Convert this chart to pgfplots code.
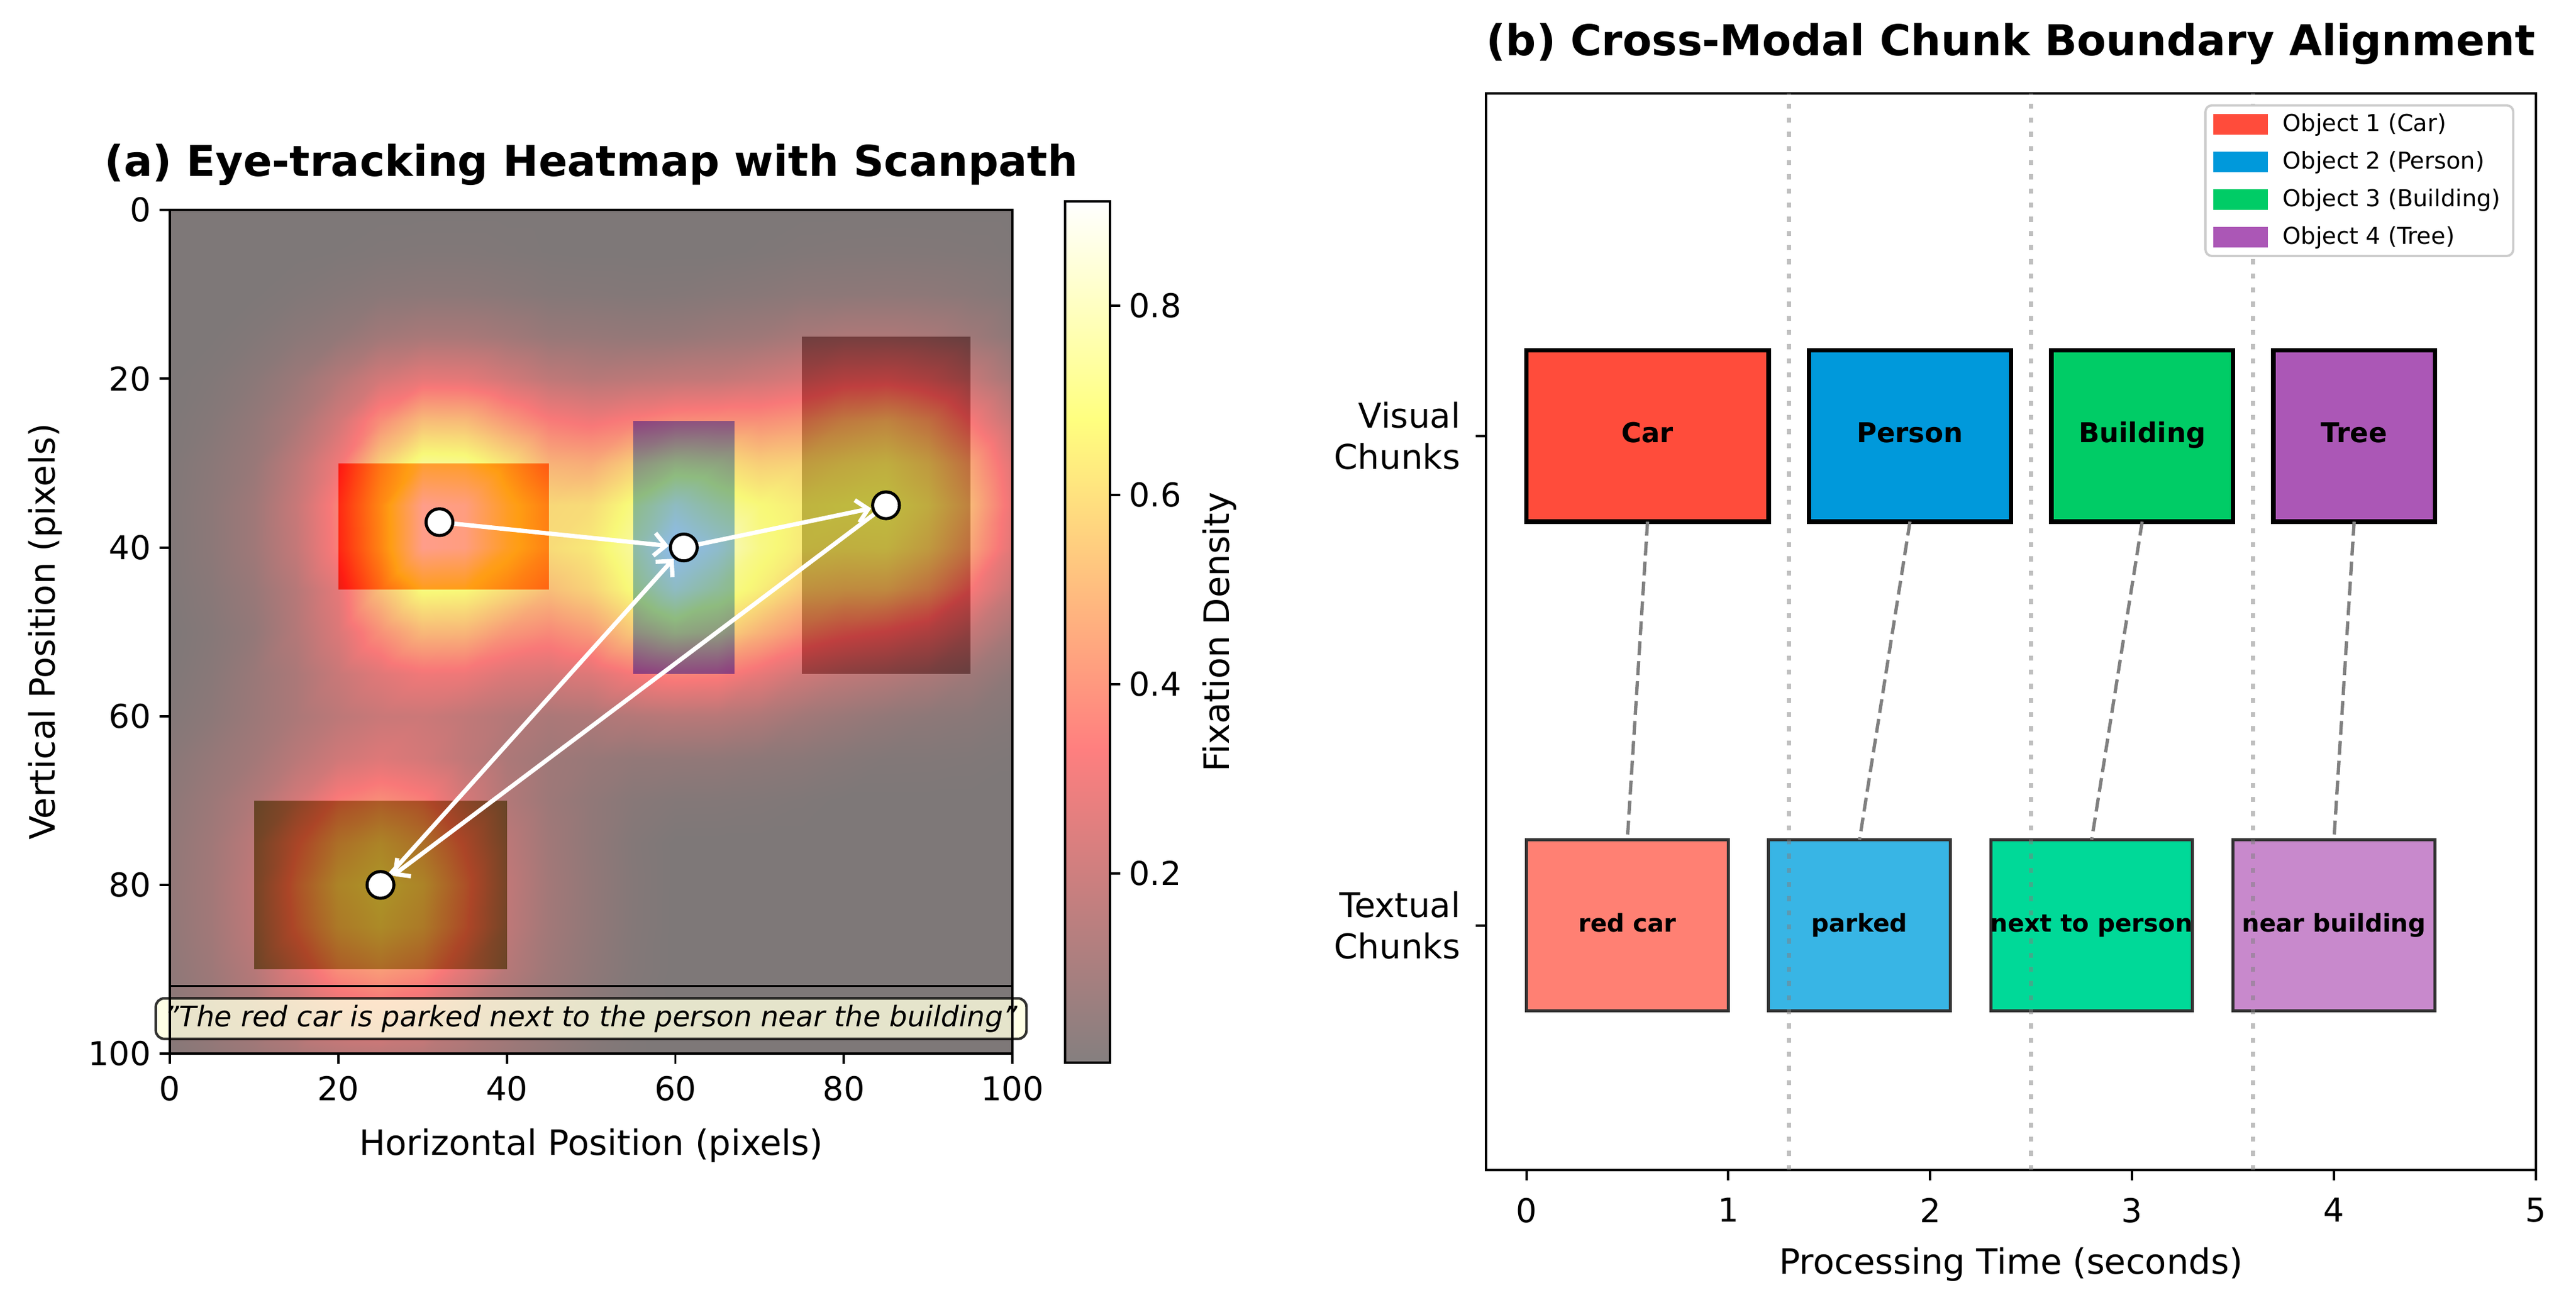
\documentclass[border=0pt]{standalone}
\usepackage{fontspec}
\setmainfont{DejaVu Sans}[ItalicFont={DejaVu Sans Oblique},BoldFont={DejaVu Sans Bold},BoldItalicFont={DejaVu Sans Bold Oblique}]
\usepackage{pgfplots}
\pgfplotsset{compat=1.18}
\usetikzlibrary{arrows.meta}

% object colours
\definecolor{carC}{RGB}{255,76,59}
\definecolor{perC}{RGB}{0,153,219}
\definecolor{bldC}{RGB}{0,204,102}
\definecolor{treC}{RGB}{171,87,182}
\definecolor{carT}{RGB}{255,128,115}
\definecolor{perT}{RGB}{56,181,229}
\definecolor{bldT}{RGB}{0,217,152}
\definecolor{treT}{RGB}{200,137,204}
\definecolor{boxedge}{RGB}{50,50,50}
\definecolor{dotgray}{RGB}{128,128,128}
% scene under the heatmap
\definecolor{sceneBG}{RGB}{242,242,242}
\definecolor{sceneCar}{RGB}{255,60,40}
\definecolor{scenePer}{RGB}{30,120,255}
\definecolor{sceneBld}{RGB}{128,128,128}
\definecolor{sceneTre}{RGB}{90,140,80}
\definecolor{lyellow}{RGB}{255,255,224}

\pgfplotsset{
  /pgf/number format/assume math mode=true,
  colormap={hot}{rgb(0cm)=(0.0416,0,0); rgb(3.65cm)=(1,0,0); rgb(7.46cm)=(1,1,0); rgb(10cm)=(1,1,1)},
  every axis/.append style={
    scale only axis,
    axis line style={line width=0.95pt},
    tick align=outside, major tick length=4pt,
    every tick/.style={black, line width=0.95pt},
    tick label style={font=\fontsize{13}{15}\selectfont},
    label style={font=\fontsize{13.8}{16.5}\selectfont},
    title style={font=\bfseries\fontsize{16.8}{19}\selectfont, anchor=center},
  },
}

\begin{document}
\begin{tikzpicture}
\useasboundingbox (0,0) rectangle (1019.3pt,512.2pt);

% ---------------- (a) heatmap ----------------
\begin{axis}[
  at={(67.2pt,95.3pt)}, anchor=south west,
  width=333.4pt, height=333.8pt,
  xmin=0, xmax=100, ymin=0, ymax=100, y dir=reverse,
  xtick={0,20,...,100}, ytick={0,20,...,100}, tick pos=left,
  xticklabel style={yshift=-1.5pt},
  axis on top, clip mode=individual,
  axis background/.style={fill=sceneBG},
  colormap name=hot, point meta min=0, point meta max=1,
  title={(a) Eye-tracking Heatmap with Scanpath},
  title style={at={(0.5,1.0359)}},
  xlabel={Horizontal Position (pixels)},
  xlabel style={at={(0.5,-0.1093)}, anchor=center},
  ylabel={Vertical Position (pixels)},
  ylabel style={at={(-0.148,0.5)}, anchor=center},
]
% scene objects
\addplot[fill=sceneCar, draw=none] coordinates {(20,30) (45,30) (45,45) (20,45)};
\addplot[fill=scenePer, draw=none] coordinates {(55,25) (67,25) (67,55) (55,55)};
\addplot[fill=sceneBld, draw=none] coordinates {(75,15) (95,15) (95,55) (75,55)};
\addplot[fill=sceneTre, draw=none] coordinates {(10,70) (40,70) (40,90) (10,90)};

% fixation density (as a fraction of the colour scale)
\addplot[surf, shader=interp, opacity=0.5, mesh/cols=21, point meta=\thisrow{h}]
table[x=x, y=y, row sep=\\] {
x y h \\
0 0 0 \\ 5 0 0 \\ 10 0 0 \\ 15 0 0 \\ 20 0 0 \\ 25 0 0 \\ 30 0 0 \\ 35 0 0 \\ 40 0 0 \\ 45 0 0 \\ 50 0 0 \\ 55 0 0 \\ 60 0 0 \\ 65 0 0 \\ 70 0 0 \\ 75 0 0 \\ 80 0 0 \\ 85 0 0 \\ 90 0 0 \\ 95 0 0 \\ 100 0 0 \\
0 5 0 \\ 5 5 0 \\ 10 5 0 \\ 15 5 0 \\ 20 5 0.003 \\ 25 5 0.008 \\ 30 5 0.011 \\ 35 5 0.011 \\ 40 5 0.007 \\ 45 5 0.002 \\ 50 5 0 \\ 55 5 0 \\ 60 5 0 \\ 65 5 0 \\ 70 5 0.004 \\ 75 5 0.010 \\ 80 5 0.013 \\ 85 5 0.014 \\ 90 5 0.013 \\ 95 5 0.010 \\ 100 5 0.004 \\
0 10 0 \\ 5 10 0 \\ 10 10 0.001 \\ 15 10 0.011 \\ 20 10 0.023 \\ 25 10 0.037 \\ 30 10 0.044 \\ 35 10 0.043 \\ 40 10 0.034 \\ 45 10 0.022 \\ 50 10 0.020 \\ 55 10 0.016 \\ 60 10 0.018 \\ 65 10 0.026 \\ 70 10 0.033 \\ 75 10 0.044 \\ 80 10 0.047 \\ 85 10 0.050 \\ 90 10 0.047 \\ 95 10 0.037 \\ 100 10 0.020 \\
0 15 0 \\ 5 15 0.001 \\ 10 15 0.014 \\ 15 15 0.038 \\ 20 15 0.062 \\ 25 15 0.107 \\ 30 15 0.130 \\ 35 15 0.129 \\ 40 15 0.108 \\ 45 15 0.078 \\ 50 15 0.073 \\ 55 15 0.067 \\ 60 15 0.071 \\ 65 15 0.086 \\ 70 15 0.098 \\ 75 15 0.128 \\ 80 15 0.144 \\ 85 15 0.145 \\ 90 15 0.132 \\ 95 15 0.099 \\ 100 15 0.050 \\
0 20 0 \\ 5 20 0.011 \\ 10 20 0.038 \\ 15 20 0.086 \\ 20 20 0.161 \\ 25 20 0.252 \\ 30 20 0.310 \\ 35 20 0.305 \\ 40 20 0.253 \\ 45 20 0.195 \\ 50 20 0.172 \\ 55 20 0.185 \\ 60 20 0.200 \\ 65 20 0.208 \\ 70 20 0.236 \\ 75 20 0.273 \\ 80 20 0.321 \\ 85 20 0.332 \\ 90 20 0.295 \\ 95 20 0.216 \\ 100 20 0.122 \\
0 25 0.003 \\ 5 25 0.022 \\ 10 25 0.062 \\ 15 25 0.130 \\ 20 25 0.250 \\ 25 25 0.430 \\ 30 25 0.568 \\ 35 25 0.563 \\ 40 25 0.467 \\ 45 25 0.375 \\ 50 25 0.343 \\ 55 25 0.383 \\ 60 25 0.424 \\ 65 25 0.432 \\ 70 25 0.434 \\ 75 25 0.463 \\ 80 25 0.536 \\ 85 25 0.567 \\ 90 25 0.504 \\ 95 25 0.364 \\ 100 25 0.216 \\
0 30 0.008 \\ 5 30 0.037 \\ 10 30 0.080 \\ 15 30 0.190 \\ 20 30 0.340 \\ 25 30 0.620 \\ 30 30 0.800 \\ 35 30 0.790 \\ 40 30 0.685 \\ 45 30 0.538 \\ 50 30 0.520 \\ 55 30 0.619 \\ 60 30 0.694 \\ 65 30 0.676 \\ 70 30 0.622 \\ 75 30 0.635 \\ 80 30 0.670 \\ 85 30 0.691 \\ 90 30 0.631 \\ 95 30 0.500 \\ 100 30 0.295 \\
0 35 0.011 \\ 5 35 0.044 \\ 10 35 0.100 \\ 15 35 0.220 \\ 20 35 0.400 \\ 25 35 0.680 \\ 30 35 0.980 \\ 35 35 0.960 \\ 40 35 0.780 \\ 45 35 0.650 \\ 50 35 0.662 \\ 55 35 0.766 \\ 60 35 0.880 \\ 65 35 0.805 \\ 70 35 0.749 \\ 75 35 0.711 \\ 80 35 0.727 \\ 85 35 0.735 \\ 90 35 0.683 \\ 95 35 0.555 \\ 100 35 0.324 \\
0 40 0.010 \\ 5 40 0.043 \\ 10 40 0.100 \\ 15 40 0.210 \\ 20 40 0.390 \\ 25 40 0.670 \\ 30 40 0.980 \\ 35 40 0.960 \\ 40 40 0.780 \\ 45 40 0.660 \\ 50 40 0.703 \\ 55 40 0.820 \\ 60 40 0.970 \\ 65 40 0.900 \\ 70 40 0.773 \\ 75 40 0.704 \\ 80 40 0.695 \\ 85 40 0.699 \\ 90 40 0.634 \\ 95 40 0.502 \\ 100 40 0.295 \\
0 45 0.007 \\ 5 45 0.034 \\ 10 45 0.080 \\ 15 45 0.170 \\ 20 45 0.310 \\ 25 45 0.580 \\ 30 45 0.760 \\ 35 45 0.750 \\ 40 45 0.663 \\ 45 45 0.572 \\ 50 45 0.635 \\ 55 45 0.760 \\ 60 45 0.880 \\ 65 45 0.800 \\ 70 45 0.719 \\ 75 45 0.605 \\ 80 45 0.587 \\ 85 45 0.583 \\ 90 45 0.510 \\ 95 45 0.366 \\ 100 45 0.216 \\
0 50 0.002 \\ 5 50 0.025 \\ 10 50 0.065 \\ 15 50 0.160 \\ 20 50 0.280 \\ 25 50 0.440 \\ 30 50 0.555 \\ 35 50 0.550 \\ 40 50 0.460 \\ 45 50 0.417 \\ 50 50 0.473 \\ 55 50 0.605 \\ 60 50 0.684 \\ 65 50 0.649 \\ 70 50 0.541 \\ 75 50 0.444 \\ 80 50 0.391 \\ 85 50 0.358 \\ 90 50 0.305 \\ 95 50 0.216 \\ 100 50 0.122 \\
0 55 0.007 \\ 5 55 0.033 \\ 10 55 0.082 \\ 15 55 0.136 \\ 20 55 0.224 \\ 25 55 0.296 \\ 30 55 0.344 \\ 35 55 0.336 \\ 40 55 0.284 \\ 45 55 0.266 \\ 50 55 0.289 \\ 55 55 0.359 \\ 60 55 0.402 \\ 65 55 0.390 \\ 70 55 0.320 \\ 75 55 0.246 \\ 80 55 0.200 \\ 85 55 0.172 \\ 90 55 0.140 \\ 95 55 0.099 \\ 100 55 0.050 \\
0 60 0.017 \\ 5 60 0.044 \\ 10 60 0.089 \\ 15 60 0.137 \\ 20 60 0.188 \\ 25 60 0.226 \\ 30 60 0.233 \\ 35 60 0.202 \\ 40 60 0.165 \\ 45 60 0.136 \\ 50 60 0.147 \\ 55 60 0.163 \\ 60 60 0.176 \\ 65 60 0.173 \\ 70 60 0.149 \\ 75 60 0.109 \\ 80 60 0.084 \\ 85 60 0.062 \\ 90 60 0.047 \\ 95 60 0.037 \\ 100 60 0.020 \\
0 65 0.034 \\ 5 65 0.070 \\ 10 65 0.110 \\ 15 65 0.177 \\ 20 65 0.244 \\ 25 65 0.287 \\ 30 65 0.258 \\ 35 65 0.198 \\ 40 65 0.140 \\ 45 65 0.101 \\ 50 65 0.080 \\ 55 65 0.064 \\ 60 65 0.062 \\ 65 65 0.059 \\ 70 65 0.048 \\ 75 65 0.039 \\ 80 65 0.025 \\ 85 65 0.014 \\ 90 65 0.013 \\ 95 65 0.010 \\ 100 65 0.004 \\
0 70 0.047 \\ 5 70 0.090 \\ 10 70 0.153 \\ 15 70 0.256 \\ 20 70 0.380 \\ 25 70 0.429 \\ 30 70 0.387 \\ 35 70 0.263 \\ 40 70 0.157 \\ 45 70 0.094 \\ 50 70 0.058 \\ 55 70 0.030 \\ 60 70 0.018 \\ 65 70 0.017 \\ 70 70 0.013 \\ 75 70 0.007 \\ 80 70 0 \\ 85 70 0 \\ 90 70 0 \\ 95 70 0 \\ 100 70 0 \\
0 75 0.056 \\ 5 75 0.104 \\ 10 75 0.186 \\ 15 75 0.352 \\ 20 75 0.488 \\ 25 75 0.550 \\ 30 75 0.488 \\ 35 75 0.352 \\ 40 75 0.186 \\ 45 75 0.104 \\ 50 75 0.056 \\ 55 75 0.018 \\ 60 75 0 \\ 65 75 0 \\ 70 75 0 \\ 75 75 0 \\ 80 75 0 \\ 85 75 0 \\ 90 75 0 \\ 95 75 0 \\ 100 75 0 \\
0 80 0.060 \\ 5 80 0.110 \\ 10 80 0.200 \\ 15 80 0.400 \\ 20 80 0.550 \\ 25 80 0.600 \\ 30 80 0.550 \\ 35 80 0.400 \\ 40 80 0.200 \\ 45 80 0.110 \\ 50 80 0.060 \\ 55 80 0.020 \\ 60 80 0 \\ 65 80 0 \\ 70 80 0 \\ 75 80 0 \\ 80 80 0 \\ 85 80 0 \\ 90 80 0 \\ 95 80 0 \\ 100 80 0 \\
0 85 0.058 \\ 5 85 0.107 \\ 10 85 0.193 \\ 15 85 0.380 \\ 20 85 0.520 \\ 25 85 0.570 \\ 30 85 0.520 \\ 35 85 0.380 \\ 40 85 0.193 \\ 45 85 0.107 \\ 50 85 0.058 \\ 55 85 0.019 \\ 60 85 0 \\ 65 85 0 \\ 70 85 0 \\ 75 85 0 \\ 80 85 0 \\ 85 85 0 \\ 90 85 0 \\ 95 85 0 \\ 100 85 0 \\
0 90 0.051 \\ 5 90 0.096 \\ 10 90 0.168 \\ 15 90 0.300 \\ 20 90 0.430 \\ 25 90 0.475 \\ 30 90 0.430 \\ 35 90 0.300 \\ 40 90 0.168 \\ 45 90 0.096 \\ 50 90 0.051 \\ 55 90 0.016 \\ 60 90 0 \\ 65 90 0 \\ 70 90 0 \\ 75 90 0 \\ 80 90 0 \\ 85 90 0 \\ 90 90 0 \\ 95 90 0 \\ 100 90 0 \\
0 95 0.039 \\ 5 95 0.078 \\ 10 95 0.126 \\ 15 95 0.193 \\ 20 95 0.292 \\ 25 95 0.332 \\ 30 95 0.292 \\ 35 95 0.193 \\ 40 95 0.126 \\ 45 95 0.078 \\ 50 95 0.039 \\ 55 95 0.011 \\ 60 95 0 \\ 65 95 0 \\ 70 95 0 \\ 75 95 0 \\ 80 95 0 \\ 85 95 0 \\ 90 95 0 \\ 95 95 0 \\ 100 95 0 \\
0 100 0.023 \\ 5 100 0.056 \\ 10 100 0.092 \\ 15 100 0.133 \\ 20 100 0.171 \\ 25 100 0.186 \\ 30 100 0.171 \\ 35 100 0.133 \\ 40 100 0.092 \\ 45 100 0.056 \\ 50 100 0.023 \\ 55 100 0.004 \\ 60 100 0 \\ 65 100 0 \\ 70 100 0 \\ 75 100 0 \\ 80 100 0 \\ 85 100 0 \\ 90 100 0 \\ 95 100 0 \\ 100 100 0 \\
};

\addplot[black, line width=0.8pt] coordinates {(0,92) (100,92)};

% scanpath
\addplot[white, line width=1.7pt, shorten >=6pt, shorten <=5pt, -{Straight Barb[length=4.5pt,width=9pt]}] coordinates {(32,37) (61,40)};
\addplot[white, line width=1.7pt, shorten >=6pt, shorten <=5pt, -{Straight Barb[length=4.5pt,width=9pt]}] coordinates {(61,40) (85,35)};
\addplot[white, line width=1.7pt, shorten >=6pt, shorten <=5pt, -{Straight Barb[length=4.5pt,width=9pt]}] coordinates {(85,35) (25,80)};
\addplot[white, line width=1.7pt, shorten >=6pt, shorten <=5pt, -{Straight Barb[length=4.5pt,width=9pt]}] coordinates {(25,80) (61,40)};
\addplot[only marks, mark=*, mark size=5.3pt, mark options={fill=white, draw=black, line width=1.2pt}] coordinates {(32,37) (61,40) (85,35) (25,80)};

\node[draw=black, draw opacity=0.8, fill=lyellow, fill opacity=0.8, text opacity=1,
      rounded corners=3.4pt, line width=1pt, inner xsep=3.5pt, inner ysep=2.6pt,
      font=\itshape\fontsize{11.2}{13}\selectfont] at (axis cs:50,95.85)
  {"The red car is parked next to the person near the building"};
\end{axis}

% ---------------- colorbar ----------------
\begin{axis}[
  at={(421.4pt,91.7pt)}, anchor=south west,
  width=17.8pt, height=340.8pt,
  xmin=0, xmax=1, ymin=0, ymax=0.91, xtick=\empty,
  ytick={0.2,0.4,0.6,0.8}, ytick pos=right, yticklabel pos=right,
  yticklabel style={/pgf/number format/fixed, /pgf/number format/precision=1},
  ylabel={Fixation Density}, ylabel style={at={(3.43,0.5)}, anchor=center},
  colormap name=hot, point meta min=0, point meta max=0.91, axis on top,
]
\addplot[surf, shader=interp, opacity=0.5, mesh/cols=2, point meta=y]
  coordinates {(0,0) (1,0) (0,0.91) (1,0.91)};
\end{axis}

% ---------------- (b) chunk alignment ----------------
\begin{axis}[
  at={(588pt,49.2pt)}, anchor=south west,
  width=415.4pt, height=426pt,
  xmin=-0.2, xmax=5, ymin=-0.5, ymax=1.7,
  xtick={0,1,2,3,4,5}, ytick={0,1}, tick pos=left,
  xticklabel style={yshift=-3.5pt},
  yticklabels={{Textual\\Chunks},{Visual\\Chunks}},
  yticklabel style={align=right, xshift=-2.6pt, font=\fontsize{13.5}{16.3}\selectfont},
  title={(b) Cross-Modal Chunk Boundary Alignment},
  title style={at={(0.5,1.0321)}},
  xlabel={Processing Time (seconds)},
  xlabel style={at={(0.5,-0.0876)}, anchor=center},
  legend style={at={(0.9795,0.99)}, anchor=north east, draw=black!20, line width=0.9pt,
    rounded corners=2.5pt, font=\fontsize{9.2}{10.8}\selectfont,
    inner xsep=3pt, inner ysep=2.2pt, row sep=4.4pt, column sep=4pt,
    nodes={inner xsep=2pt, inner ysep=1pt}, cells={anchor=west}},
  legend image code/.code={\fill[#1, draw=none, sharp corners] (0pt,-4.1pt) rectangle (21.6pt,4.1pt);},
]
% textual chunks
\addplot[fill=carT, draw=boxedge, line width=1.2pt, forget plot] coordinates {(0.5,-0.175) (1,-0.175) (1,0.175) (0,0.175) (0,-0.175) (0.5,-0.175)};
\addplot[fill=perT, draw=boxedge, line width=1.2pt, forget plot] coordinates {(1.65,-0.175) (2.1,-0.175) (2.1,0.175) (1.2,0.175) (1.2,-0.175) (1.65,-0.175)};
\addplot[fill=bldT, draw=boxedge, line width=1.2pt, forget plot] coordinates {(2.8,-0.175) (3.3,-0.175) (3.3,0.175) (2.3,0.175) (2.3,-0.175) (2.8,-0.175)};
\addplot[fill=treT, draw=boxedge, line width=1.2pt, forget plot] coordinates {(4,-0.175) (4.5,-0.175) (4.5,0.175) (3.5,0.175) (3.5,-0.175) (4,-0.175)};
% boundaries
\addplot[dotgray, opacity=0.5, line width=1.7pt, dash pattern=on 2pt off 3.6pt, forget plot] coordinates {(1.3,-0.5) (1.3,1.7)};
\addplot[dotgray, opacity=0.5, line width=1.7pt, dash pattern=on 2pt off 3.6pt, forget plot] coordinates {(2.5,-0.5) (2.5,1.7)};
\addplot[dotgray, opacity=0.5, line width=1.7pt, dash pattern=on 2pt off 3.6pt, forget plot] coordinates {(3.6,-0.5) (3.6,1.7)};
% visual chunks
\addplot[fill=carC, draw=black, line width=1.8pt, forget plot] coordinates {(0.6,0.825) (1.2,0.825) (1.2,1.175) (0,1.175) (0,0.825) (0.6,0.825)};
\addplot[fill=perC, draw=black, line width=1.8pt, forget plot] coordinates {(1.9,0.825) (2.4,0.825) (2.4,1.175) (1.4,1.175) (1.4,0.825) (1.9,0.825)};
\addplot[fill=bldC, draw=black, line width=1.8pt, forget plot] coordinates {(3.05,0.825) (3.5,0.825) (3.5,1.175) (2.6,1.175) (2.6,0.825) (3.05,0.825)};
\addplot[fill=treC, draw=black, line width=1.8pt, forget plot] coordinates {(4.1,0.825) (4.5,0.825) (4.5,1.175) (3.7,1.175) (3.7,0.825) (4.1,0.825)};
% alignment links
\addplot[dotgray, line width=1.3pt, dash pattern=on 5.5pt off 2.4pt, forget plot] coordinates {(0.6,0.825) (0.5,0.175)};
\addplot[dotgray, line width=1.3pt, dash pattern=on 5.5pt off 2.4pt, forget plot] coordinates {(1.9,0.825) (1.65,0.175)};
\addplot[dotgray, line width=1.3pt, dash pattern=on 5.5pt off 2.4pt, forget plot] coordinates {(3.05,0.825) (2.8,0.175)};
\addplot[dotgray, line width=1.3pt, dash pattern=on 5.5pt off 2.4pt, forget plot] coordinates {(4.1,0.825) (4,0.175)};
% chunk labels
\addplot[draw=none, mark=none, forget plot, nodes near coords, point meta=explicit symbolic,
  every node near coord/.style={anchor=center, text height=0.75em, text depth=0.22em, font=\bfseries\fontsize{10.8}{12}\selectfont}]
  table[meta=label, row sep=\\] {x y label \\ 0.6 1 Car \\ 1.9 1 Person \\ 3.05 1 Building \\ 4.1 1 Tree \\};
\addplot[draw=none, mark=none, forget plot, nodes near coords, point meta=explicit symbolic,
  every node near coord/.style={anchor=center, text height=0.75em, text depth=0.22em, font=\bfseries\fontsize{9.7}{11}\selectfont}]
  table[meta=label, row sep=\\] {x y label \\ 0.5 0 {red car} \\ 1.65 0 parked \\ 2.8 0 {next to person} \\ 4 0 {near building} \\};
\addlegendimage{fill=carC}
\addlegendentry{Object 1 (Car)}
\addlegendimage{fill=perC}
\addlegendentry{Object 2 (Person)}
\addlegendimage{fill=bldC}
\addlegendentry{Object 3 (Building)}
\addlegendimage{fill=treC}
\addlegendentry{Object 4 (Tree)}
\end{axis}
\end{tikzpicture}
\end{document}
